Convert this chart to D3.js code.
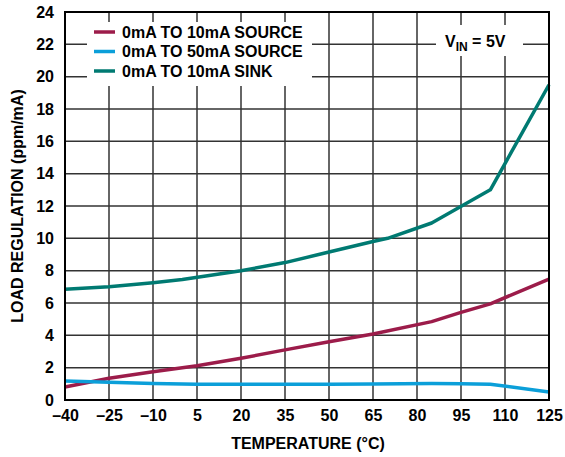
<!DOCTYPE html>
<html>
<head>
<meta charset="utf-8">
<script src="https://cdn.jsdelivr.net/npm/d3@7"></script>
<style>
  html, body { margin: 0; padding: 0; background: #fff; }
  svg { display: block; font-family: "Liberation Sans", Arial, sans-serif; font-weight: bold; }
</style>
</head>
<body>
<svg id="chart" width="565" height="457"></svg>
<script>
// Temperature ticks (°C) and load-regulation ticks (ppm/mA)
const xTicks = [-40, -25, -10, 5, 20, 35, 50, 65, 80, 95, 110, 125];
const yTicks = [0, 2, 4, 6, 8, 10, 12, 14, 16, 18, 20, 22, 24];

// 0mA to 10mA source
const source10Temp = [-40, -25, -10, 5, 20, 35, 50, 65, 85, 95, 105, 125];
const source10Val  = [0.8, 1.35, 1.75, 2.12, 2.58, 3.1, 3.6, 4.08, 4.85, 5.42, 5.95, 7.48];

// 0mA to 50mA source
const source50Temp = [-40, -25, -10, 5, 20, 35, 50, 65, 85, 95, 105, 125];
const source50Val  = [1.17, 1.1, 1.02, 0.97, 0.97, 0.97, 0.98, 0.99, 1.02, 1.01, 0.98, 0.5];

// 0mA to 10mA sink
const sinkTemp = [-40, -25, -10, 0, 20, 35, 50, 65, 70, 85, 105, 125];
const sinkVal  = [6.85, 7.0, 7.25, 7.45, 8.0, 8.5, 9.15, 9.8, 10.0, 10.95, 13.0, 19.5];

const seriesNames = ["0mA TO 10mA SOURCE", "0mA TO 50mA SOURCE", "0mA TO 10mA SINK"];
const seriesColors = ["#9c1c4a", "#0b9fd9", "#007a72"];

const series = [
  source10Temp.map((t, i) => [t, source10Val[i]]),
  source50Temp.map((t, i) => [t, source50Val[i]]),
  sinkTemp.map((t, i) => [t, sinkVal[i]])
];

const svg = d3.select("#chart");
const L = 65, R = 549, T = 12, B = 400;
const FS = 16;

const x = d3.scaleLinear().domain([-40, 125]).range([L, R]);
const y = d3.scaleLinear().domain([0, 24]).range([B, T]);

// grid
const grid = svg.append("g").attr("stroke", "#333").attr("stroke-width", 1.5);
grid.selectAll("line.v").data(xTicks.slice(1, -1)).join("line")
  .attr("x1", d => x(d)).attr("x2", d => x(d)).attr("y1", T).attr("y2", B);
grid.selectAll("line.h").data(yTicks.slice(1, -1)).join("line")
  .attr("y1", d => y(d)).attr("y2", d => y(d)).attr("x1", L).attr("x2", R);

// white panels behind the legend and the supply note
svg.append("rect").attr("x", 87).attr("y", 22).attr("width", 225).attr("height", 64).attr("fill", "#fff");
svg.append("rect").attr("x", 436).attr("y", 25).attr("width", 87).attr("height", 31).attr("fill", "#fff");

// data lines
const line = d3.line().x(d => x(d[0])).y(d => y(d[1]));
svg.append("g").selectAll("path").data(series).join("path")
  .attr("d", line)
  .attr("fill", "none")
  .attr("stroke", (d, i) => seriesColors[i])
  .attr("stroke-width", 3.5)
  .attr("stroke-linejoin", "round");

// frame
svg.append("rect").attr("x", L).attr("y", T).attr("width", R - L).attr("height", B - T)
  .attr("fill", "none").attr("stroke", "#000").attr("stroke-width", 2);

// axes
const xAxis = svg.append("g").attr("transform", `translate(0,${B})`)
  .call(d3.axisBottom(x).tickValues(xTicks).tickSize(0).tickPadding(10)
    .tickFormat(d => d < 0 ? "\u2013" + Math.abs(d) : String(d)));
const yAxis = svg.append("g").attr("transform", `translate(${L},0)`)
  .call(d3.axisLeft(y).tickValues(yTicks).tickSize(0).tickPadding(11));
[xAxis, yAxis].forEach(a => {
  a.select(".domain").remove();
  a.selectAll("text").attr("font-size", FS).attr("font-weight", "bold")
    .attr("font-family", "Liberation Sans, Arial, sans-serif").attr("fill", "#000");
});

// axis titles
svg.append("text").attr("x", 308).attr("y", 449).attr("text-anchor", "middle")
  .attr("font-size", FS).text("TEMPERATURE (°C)");
svg.append("text").attr("transform", `translate(23,${(T + B) / 2}) rotate(-90)`)
  .attr("text-anchor", "middle").attr("font-size", FS).text("LOAD REGULATION (ppm/mA)");

// legend
const leg = svg.append("g");
seriesNames.forEach((name, i) => {
  const yy = 32 + i * 19.5;
  leg.append("line").attr("x1", 94).attr("x2", 115).attr("y1", yy).attr("y2", yy)
    .attr("stroke", seriesColors[i]).attr("stroke-width", 3.5);
  leg.append("text").attr("x", 122).attr("y", yy + 5.8).attr("font-size", FS).text(name);
});

// supply note
const note = svg.append("text").attr("x", 445).attr("y", 47).attr("font-size", FS);
note.append("tspan").text("V");
note.append("tspan").attr("font-size", 12).attr("dy", 4).text("IN");
note.append("tspan").attr("dy", -4).text(" = 5V");
</script>
</body>
</html>
